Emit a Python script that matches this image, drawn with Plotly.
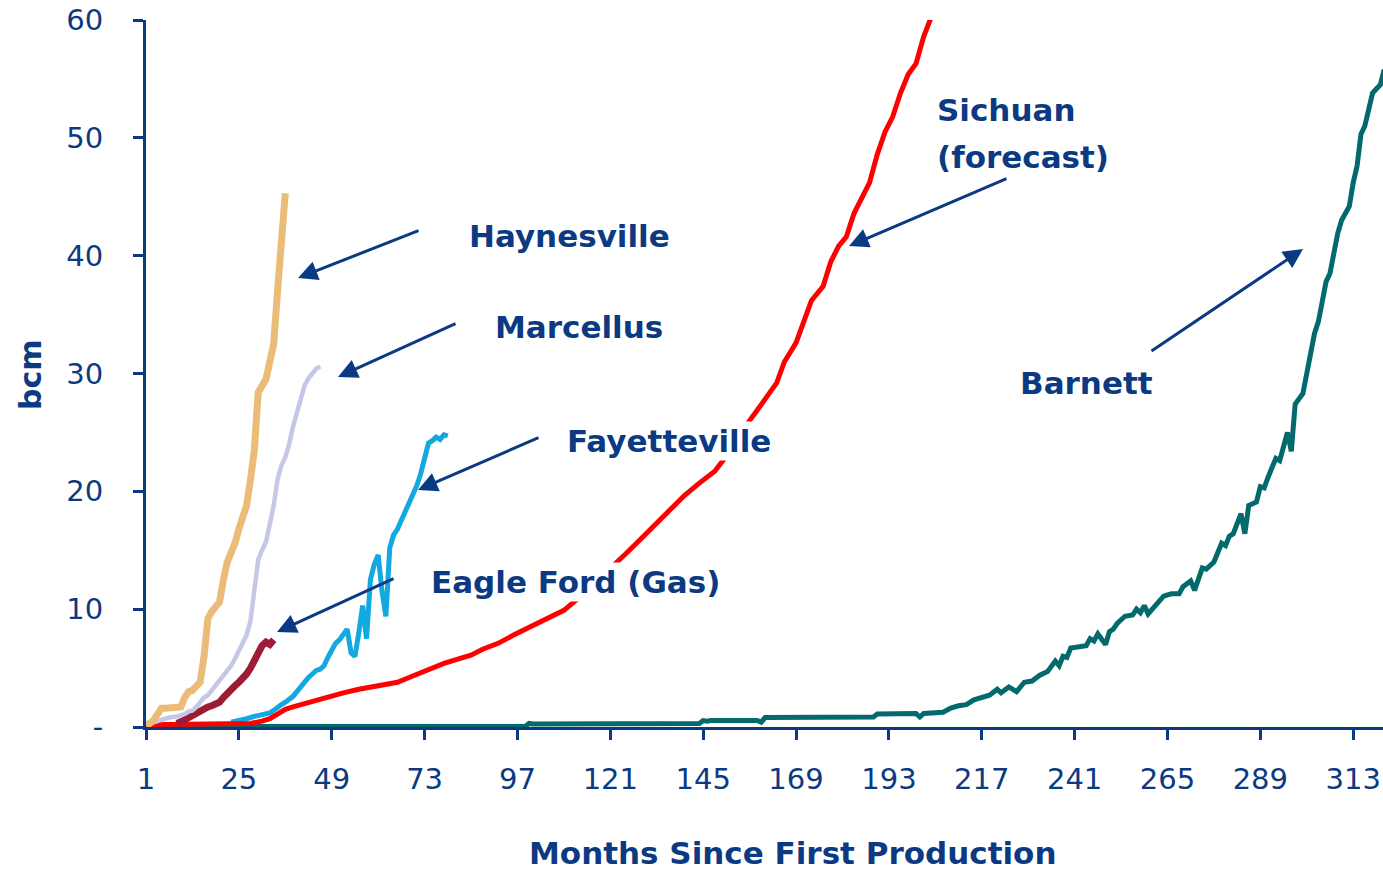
import plotly.graph_objects as go

# ---------------- data ----------------
hay_m = [1, 2, 3, 4, 5, 6, 7, 8, 9, 10, 11, 12, 13, 14, 15, 16, 17, 18, 19, 20, 21, 22, 23, 24, 25,
         26, 27, 28, 29, 30, 31, 32, 33, 34, 35, 36, 37]
hay_v = [0.2, 0.3, 0.6, 1.1, 1.6, 1.6, 1.6, 1.6, 1.6, 1.7, 2.5, 3.0, 3.1, 3.4, 3.8, 6.0, 9.2, 9.8, 10.2,
         10.6, 12.5, 14.0, 14.8, 15.6, 16.8, 17.8, 18.8, 21.0, 23.5, 28.4, 29.0, 29.5, 31.0, 32.5,
         37.0, 41.5, 45.3]

mar_m = [1, 3, 5, 7, 9, 10, 11, 12, 13, 14, 15, 16, 17, 18, 19, 20, 21, 22, 23, 24, 25, 26, 27, 28,
         29, 30, 31, 32, 33, 34, 35, 36, 37, 38, 39, 40, 41, 42, 43, 44, 45, 46]
mar_v = [0.3, 0.4, 0.6, 0.8, 0.9, 1.0, 1.1, 1.3, 1.4, 1.7, 2.1, 2.5, 2.7, 3.1, 3.5, 3.9, 4.3, 4.7, 5.2,
         5.8, 6.5, 7.1, 7.8, 9.0, 11.5, 14.2, 15.0, 15.7, 17.2, 18.8, 21.0, 22.2, 22.9, 24.0, 25.5,
         26.6, 27.9, 29.0, 29.6, 30.0, 30.4, 30.6]

egf_m = [9, 10, 11, 12, 13, 14, 15, 16, 17, 18, 19, 20, 21, 22, 23, 24, 25, 26, 27, 28, 29, 30, 31,
         32, 33, 34]
egf_v = [0.3, 0.4, 0.6, 0.8, 1.0, 1.2, 1.4, 1.6, 1.7, 1.8, 1.9, 2.1, 2.5, 2.9, 3.2, 3.5, 3.8, 4.1,
         4.5, 5.0, 5.6, 6.4, 6.9, 7.2, 7.0, 7.4]

fay_m = [23, 25, 27, 29, 31, 33, 34, 35, 36, 37, 38, 39, 40, 41, 42, 43, 44, 45, 46, 47, 48, 49, 50,
         51, 52, 53, 54, 55, 56, 57, 58, 59, 60, 61, 62, 63, 64, 65, 66, 67, 68, 69, 70, 71, 72, 73,
         74, 75, 76, 77, 78, 79]
fay_v = [0.4, 0.5, 0.7, 0.9, 1.0, 1.2, 1.4, 1.7, 1.9, 2.1, 2.3, 2.6, 3.0, 3.4, 3.9, 4.2, 4.5, 4.8,
         4.9, 5.2, 5.9, 6.6, 7.1, 7.4, 7.9, 8.3, 6.3, 6.0, 8.0, 10.3, 7.5, 12.5, 13.8, 14.6, 11.5,
         9.4, 15.2, 16.3, 16.8, 17.5, 18.2, 19.0, 19.8, 20.5, 21.5, 23.0, 24.1, 24.3, 24.6, 24.4,
         24.8, 24.7]

sic_m = [1, 10, 20, 28, 31, 33, 35, 37, 39, 42, 45, 48, 52, 56, 59, 62, 66, 69, 72, 75, 78, 82, 85,
         88, 92, 96, 99, 102, 106, 109, 113, 117, 121, 125, 129, 132, 136, 140, 144, 148, 151, 154,
         157, 159, 161, 164, 166, 169, 171, 173, 176, 178, 180, 182, 184, 186, 188, 190, 192, 194,
         196, 198, 200, 202, 204, 206]
sic_v = [0.2, 0.2, 0.2, 0.3, 0.5, 0.7, 1.1, 1.5, 1.7, 2.0, 2.3, 2.6, 2.9, 3.2, 3.4, 3.6, 3.8, 4.2,
         4.6, 5.0, 5.4, 5.8, 6.1, 6.6, 7.1, 7.8, 8.3, 8.8, 9.4, 9.9, 11.0, 12.2, 13.4, 14.7, 16.0,
         17.0, 18.3, 19.6, 20.7, 21.7, 23.0, 24.6, 26.0, 26.9, 27.8, 29.2, 31.0, 32.6, 34.4, 36.2,
         37.4, 39.5, 40.8, 41.6, 43.6, 45.0, 46.2, 48.6, 50.5, 51.8, 53.8, 55.4, 56.3, 58.6, 60.3,
         62.0]

bar_m = [1, 50, 99, 100, 101, 144, 145, 146, 147, 159, 160, 161, 189, 190, 200, 201, 202, 207, 209,
         211, 213, 215, 217, 219, 221, 222, 224, 226, 228, 230, 232, 234, 236, 237, 238, 239, 240,
         242, 244, 245, 246, 247, 249, 250, 251, 252, 254, 256, 257, 258, 259, 260, 262, 264, 266,
         268, 269, 271, 272, 274, 275, 277, 279, 280, 281, 282, 284, 285, 286, 288, 289, 290, 291,
         292, 293, 294, 296, 297, 298, 300, 301, 303, 304, 306, 307, 309, 310, 312, 313, 314, 315,
         316, 318, 320, 321]
bar_v = [0.05, 0.05, 0.05, 0.3, 0.25, 0.3, 0.55, 0.5, 0.55, 0.55, 0.4, 0.8, 0.85, 1.1, 1.15, 0.85,
         1.15, 1.25, 1.6, 1.8, 1.9, 2.3, 2.5, 2.7, 3.2, 2.9, 3.4, 3.0, 3.8, 3.9, 4.4, 4.7, 5.6, 5.2,
         6.0, 5.9, 6.7, 6.8, 6.9, 7.5, 7.3, 7.9, 7.0, 8.1, 8.3, 8.8, 9.4, 9.5, 10.0, 9.7, 10.3, 9.6,
         10.4, 11.1, 11.3, 11.3, 11.9, 12.4, 11.6, 13.5, 13.4, 14.0, 15.6, 15.4, 16.2, 16.4, 18.1,
         16.4, 18.8, 19.1, 20.4, 20.3, 21.2, 21.9, 22.8, 22.6, 25.0, 23.4, 27.4, 28.3, 30.2, 33.4,
         34.4, 37.8, 38.5, 41.9, 43.0, 44.2, 46.2, 47.6, 50.3, 51.0, 53.8, 54.5, 55.8]

x_ticks = [1, 25, 49, 73, 97, 121, 145, 169, 193, 217, 241, 265, 289, 313]
y_ticks = [0, 10, 20, 30, 40, 50, 60]
y_tick_text = ["-", "10", "20", "30", "40", "50", "60"]

NAVY = "#0B3A82"
W, H = 1383, 872
L, R, T, B = 146, 0, 20, 145
PW, PH = W - L - R, H - T - B


def px(xp):
    return (xp - L) / PW


def py(yp):
    return (T + PH - yp) / PH


fig = go.Figure()
series = [
    ("Barnett", bar_m, bar_v, "#02696C", 5),
    ("Fayetteville", fay_m, fay_v, "#12A8E0", 5),
    ("Sichuan", sic_m, sic_v, "#FF0000", 5),
    ("Eagle Ford", egf_m, egf_v, "#9C1C35", 7),
    ("Marcellus", mar_m, mar_v, "#C5C7E6", 4.5),
    ("Haynesville", hay_m, hay_v, "#EBBC78", 7),
]
for name, xs, ys, col, w in series:
    fig.add_trace(go.Scatter(x=xs, y=ys, mode="lines", name=name,
                             line=dict(color=col, width=w), showlegend=False))

LABEL_FONT = dict(family="DejaVu Sans", size=31, color=NAVY, weight="bold")

labels = [
    ("Haynesville", 569, 236, "center"),
    ("Marcellus", 579, 327, "center"),
    ("Fayetteville", 669, 441, "center"),
    ("Eagle Ford (Gas)", 575, 582, "center"),
    ("Sichuan", 935, 110, "left"),
    ("(forecast)", 935, 157, "left"),
    ("Barnett", 1086, 383, "center"),
]
annotations = []
for txt, xp, yp, anc in labels:
    annotations.append(dict(text=txt, x=px(xp), y=py(yp), xref="paper", yref="paper",
                            xanchor=anc, yanchor="middle", showarrow=False,
                            bgcolor="white", borderpad=1, font=LABEL_FONT))

arrows = [
    ((420, 230), (298, 278)),
    ((457, 323), (338, 377)),
    ((540, 437), (418, 490)),
    ((395, 578), (277, 632)),
    ((1008, 178), (849, 246)),
    ((1150, 352), (1303, 249)),
]
for (tx, ty), (hx, hy) in arrows:
    annotations.append(dict(text="", x=px(hx), y=py(hy), xref="paper", yref="paper",
                            ax=tx - hx, ay=ty - hy, showarrow=True, arrowhead=2,
                            arrowsize=1.3, arrowwidth=3, arrowcolor=NAVY, standoff=0))

annotations.append(dict(text="Months Since First Production", x=px(792), y=py(853),
                        xref="paper", yref="paper", showarrow=False, xanchor="center",
                        yanchor="middle",
                        font=dict(family="DejaVu Sans", size=31, color=NAVY, weight="bold")))
annotations.append(dict(text="bcm", x=px(30), y=py(375), xref="paper", yref="paper",
                        showarrow=False, textangle=-90, xanchor="center", yanchor="middle",
                        font=dict(family="DejaVu Sans", size=30, color=NAVY, weight="bold")))

fig.update_layout(
    width=W, height=H,
    margin=dict(l=L, r=R, t=T, b=B, pad=0),
    paper_bgcolor="white", plot_bgcolor="white",
    annotations=annotations,
    xaxis=dict(range=[1, 320.7], tickmode="array", tickvals=x_ticks,
               ticktext=[str(v) for v in x_ticks], ticks="outside", ticklen=10, tickwidth=3,
               tickcolor=NAVY, showline=True, linewidth=3, linecolor=NAVY, showgrid=False,
               zeroline=False, ticklabelstandoff=14,
               tickfont=dict(family="DejaVu Sans", size=29, color=NAVY)),
    yaxis=dict(range=[0, 60], tickmode="array", tickvals=y_ticks, ticktext=y_tick_text,
               ticks="outside", ticklen=10, tickwidth=3, tickcolor=NAVY, showline=True,
               linewidth=3, linecolor=NAVY, showgrid=False, zeroline=False,
               ticklabelstandoff=24,
               tickfont=dict(family="DejaVu Sans", size=29, color=NAVY)),
)

fig.write_html("out.html", config={"displayModeBar": False},
               post_script="document.body.style.margin='0';document.body.style.overflow='hidden';")
